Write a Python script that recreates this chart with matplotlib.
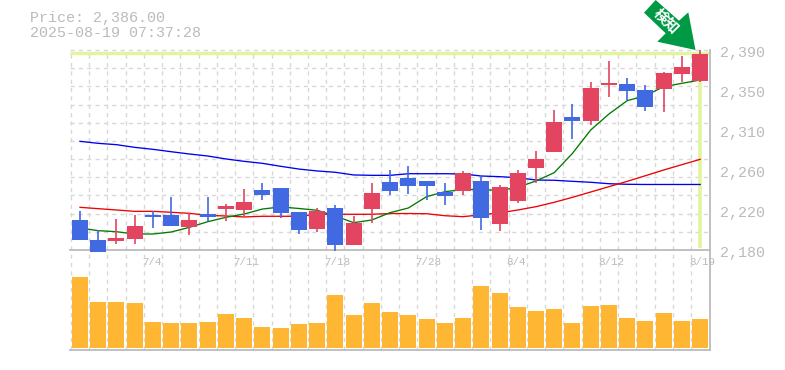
from matplotlib import pyplot as plt
from matplotlib.patches import Polygon
import numpy as np

plt.rcParams['font.family'] = ['Liberation Mono', 'DejaVu Sans']

opens = [2212, 2190, 2189, 2192, 2217, 2217, 2204, 2218, 2223, 2222, 2243, 2245,
         2220, 2202, 2224, 2185, 2223, 2251, 2256, 2252, 2241, 2242, 2252, 2207,
         2231, 2266, 2283, 2320, 2315, 2353, 2354, 2348, 2349, 2365, 2357]
highs = [2221, 2201, 2213, 2217, 2221, 2236, 2219, 2236, 2228, 2244, 2250, 2245,
         2220, 2224, 2227, 2216, 2250, 2264, 2268, 2252, 2250, 2263, 2259, 2248,
         2264, 2284, 2327, 2333, 2356, 2378, 2361, 2353, 2367, 2384, 2390]
lows = [2190, 2178, 2186, 2186, 2203, 2205, 2196, 2210, 2210, 2216, 2232, 2214,
        2197, 2199, 2179, 2185, 2208, 2238, 2239, 2232, 2227, 2238, 2201, 2200,
        2229, 2250, 2283, 2297, 2311, 2341, 2338, 2326, 2325, 2356, 2356]
closes = [2190, 2178, 2193, 2205, 2215, 2205, 2212, 2215, 2226, 2230, 2238, 2219,
          2201, 2221, 2185, 2208, 2240, 2242, 2247, 2247, 2237, 2261, 2214, 2246,
          2261, 2276, 2314, 2315, 2350, 2355, 2347, 2330, 2366, 2372, 2386]

ma_short = [2203.1, 2200.3, 2199.2, 2196.8, 2196.8, 2198.9, 2203.8, 2209.7, 2214.3,
            2217.8, 2223, 2225.2, 2223.6, 2221.7, 2215.7, 2208.7, 2211.5, 2219.2,
            2224.1, 2236, 2241.2, 2243.5, 2243.5, 2242.5, 2245.8, 2252.5, 2261.2,
            2281.5, 2306, 2322.8, 2336.8, 2342, 2351.5, 2355, 2358.5]
ma_mid = [2224.8, 2223.4, 2222, 2220.6, 2220.6, 2219.6, 2218.5, 2216.4, 2215.7,
          2214.7, 2215.4, 2215.4, 2215.4, 2217.5, 2217.5, 2217.5, 2217.5, 2218.3,
          2218.3, 2218.1, 2216, 2215, 2217, 2218.9, 2222, 2225.5, 2230.1, 2235.3,
          2240.9, 2246.5, 2252.1, 2258, 2264, 2269.6, 2275.2]
ma_long = [2294.1, 2292, 2290.6, 2287.8, 2285.7, 2283.2, 2280.8, 2278.7, 2275.6,
           2273.1, 2271, 2267.9, 2265, 2263, 2261.6, 2258.8, 2258.4, 2258.4, 2260.1,
           2260.1, 2260.1, 2259.8, 2257.7, 2257, 2255.9, 2253.5, 2253.2, 2252.1,
           2251.1, 2249.6, 2249, 2248.8, 2248.8, 2248.8, 2248.8]

volumes = [71, 46, 46, 45, 26, 25, 25, 26, 34, 30, 21, 20, 24, 25, 53, 33, 45, 36,
           33, 29, 25, 30, 62, 55, 41, 37, 39, 25, 42, 43, 30, 27, 35, 27, 29]

date_pos = [4, 9, 14, 19, 24, 29, 34]
date_labels = ['7/4', '7/11', '7/18', '7/28', '8/4', '8/12', '8/19']
price_ticks = [2390, 2348, 2306, 2264, 2222, 2180]
price_labels = ['2,390', '2,350', '2,310', '2,260', '2,220', '2,180']

W, H = 785, 370
GRAY = '#bbbbbb'
GRID = '#d8d8d8'
UP = '#e34460'
DOWN = '#4169e1'
MARK = '#e0f59c'


def px_axes(fig, left, top, right, bottom):
    return fig.add_axes([left / W, 1 - bottom / H, (right - left) / W, (bottom - top) / H])


def px_fig(x, y):
    return x / W, 1 - y / H


fig = plt.figure(figsize=(W / 100, H / 100), dpi=100)
ax = px_axes(fig, 70, 50, 710, 250)
vol = px_axes(fig, 70, 250, 710, 350)

n = len(closes)
xs = np.arange(n)
xlim = (-0.548, 34.54)

for a in (ax, vol):
    a.set_xlim(*xlim)
    a.set_xticks([])
    a.set_yticks([])
    a.patch.set_alpha(0)
    for s in a.spines.values():
        s.set_visible(False)
    for g in xs - 0.5:
        a.axvline(g, color=GRID, lw=1.0, ls=(0, (3, 3)), zorder=1)
    for side in ('right', 'bottom'):
        a.spines[side].set_visible(True)
        a.spines[side].set_color(GRAY)
        a.spines[side].set_linewidth(1.3)

ax.set_ylim(2180, 2390)
for g in np.linspace(2180, 2390, 12)[1:]:
    ax.axhline(g, color=GRID, lw=1.0, ls=(0, (3, 3)), zorder=1, clip_on=False)

# last price marker
ax.plot([xlim[0], xlim[1]], [2386.6] * 2, color=MARK, lw=2.4, zorder=2, solid_capstyle='butt')
ax.plot([xs[-1], xs[-1]], [2182, closes[-1]], color=MARK, lw=2.6, zorder=2, solid_capstyle='butt')

ax.plot(xs, ma_long, color='#0000ee', lw=0.95, zorder=3)
ax.plot(xs, ma_mid, color='#f00000', lw=0.95, zorder=3)
ax.plot(xs, ma_short, color='#007a00', lw=0.95, zorder=3)

colors = [UP if c >= o else DOWN for o, c in zip(opens, closes)]
body_bottom = [min(o, c) for o, c in zip(opens, closes)]
body_height = [abs(c - o) for o, c in zip(opens, closes)]
ax.vlines(xs, lows, highs, colors=colors, lw=1.2, zorder=4, clip_on=False)
ax.bar(xs, body_height, bottom=body_bottom, width=16 / 18.24, color=colors, zorder=5, clip_on=False)

vol.set_ylim(-2, 98)
vol.bar(xs, volumes, width=16 / 18.24, color='#ffb733', zorder=3)

for i, lab in zip(date_pos, date_labels):
    vol.annotate(lab, xy=(i, 1), xycoords=('data', 'axes fraction'), xytext=(-8, -8.6),
                 textcoords='offset points', ha='left', va='center', fontsize=7.8,
                 color=GRAY, annotation_clip=False, zorder=6)

for p, lab in zip(price_ticks, price_labels):
    ax.annotate(lab, xy=(1, p), xycoords=('axes fraction', 'data'), xytext=(7.2, -2.2),
                textcoords='offset points', ha='left', va='center', fontsize=10.8,
                color=GRAY, annotation_clip=False)

fig.text(*px_fig(30, 18), 'Price: 2,386.00', fontsize=10.8, color=GRAY, va='center', ha='left')
fig.text(*px_fig(30, 33), '2025-08-19 07:37:28', fontsize=10.8, color=GRAY, va='center', ha='left')

arrow = [(644, 12.7), (655.7, 0), (679, 20.7), (688.3, 12.3), (695.5, 50), (657.3, 41.7), (665.7, 33.3)]
fig.add_artist(Polygon([px_fig(x, y) for x, y in arrow], closed=True, color='#009944',
                       lw=0, transform=fig.transFigure, zorder=8))
fig.text(*px_fig(666.7, 20.7), '検知', fontsize=10.5, color='white', rotation=-45, weight='bold',
         family=['Noto Sans CJK JP', 'DejaVu Sans'], ha='center', va='center',
         rotation_mode='anchor', zorder=9)

fig.savefig('out.png', dpi=100)
